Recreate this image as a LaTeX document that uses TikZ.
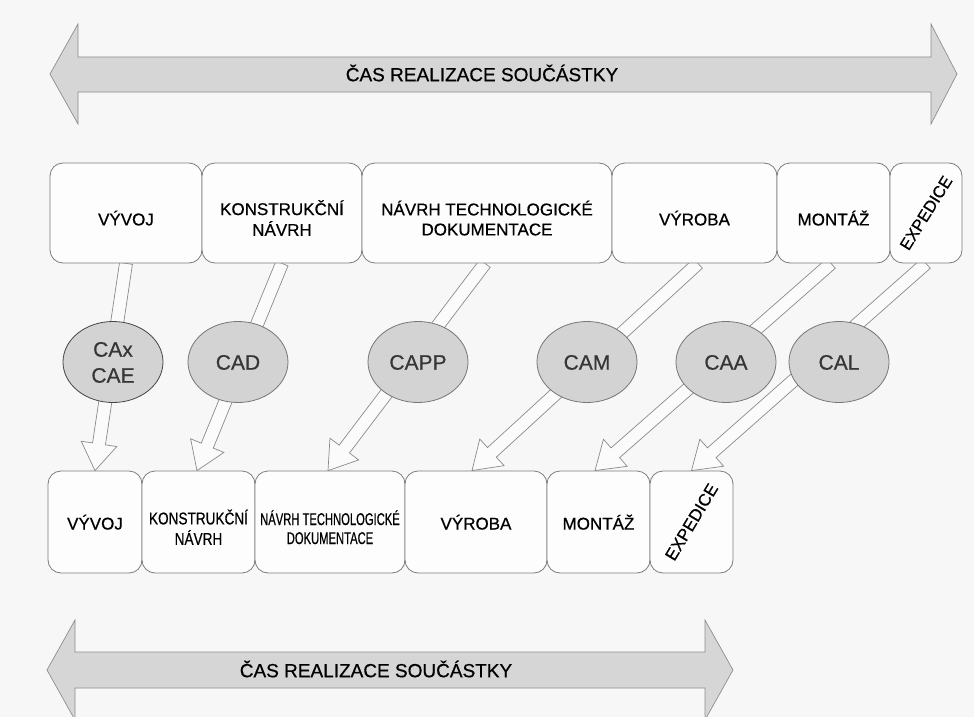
\documentclass[tikz,border=0pt]{standalone}
\usepackage{fontspec}
\setmainfont{Liberation Sans}
\newfontfamily\heavy{Liberation Sans}[FakeBold=0.6]
\usepackage{graphicx}
\usetikzlibrary{calc,backgrounds,shapes.geometric}
\definecolor{pagebg}{HTML}{F7F7F7}
\definecolor{boxline}{HTML}{7C7C7C}
\definecolor{boxfill}{HTML}{FDFDFD}
\definecolor{ellfill}{HTML}{D3D3D3}
\definecolor{ellline}{HTML}{767676}
\definecolor{ellline2}{HTML}{454545}
\definecolor{elltext}{HTML}{363636}
\definecolor{bigfill}{HTML}{D6D6D6}
\definecolor{bigline}{HTML}{8E8E8E}
\definecolor{arrline}{HTML}{8A8A8A}
\definecolor{arrfill}{HTML}{FBFBFB}
\newcommand{\tfont}{\heavy\fontsize{17}{20}\selectfont}
\newcommand{\bfontx}{\heavy\fontsize{17}{19}\selectfont}
\newcommand{\efont}{\heavy\fontsize{21}{26}\selectfont}
\newcommand{\titlefont}{\heavy\fontsize{19}{22}\selectfont}
\newcommand{\dn}[2]{\raisebox{-#1}[\height][\depth]{\begin{tabular}{@{}c@{}}#2\end{tabular}}}
\newcommand{\sq}[2]{\scalebox{#1}[1]{#2}}
\newcommand{\blockarrow}[2]{%
  \pgfpointdiff{\pgfpointanchor{#1}{center}}{\pgfpointanchor{#2}{center}}%
  \pgfgetlastxy{\badx}{\bady}%
  \pgfmathsetmacro{\balen}{veclen(\badx,\bady)}%
  \pgfmathsetmacro{\baang}{atan2(\bady,\badx)}%
  \filldraw[blockarr, shift={(#1)}, rotate=\baang]
    (0pt,-6.5pt) -- ({\balen pt-27pt},-6.5pt) -- ({\balen pt-27pt},-18pt)
    -- ({\balen pt},0pt) -- ({\balen pt-27pt},18pt) -- ({\balen pt-27pt},6.5pt)
    -- (0pt,6.5pt) -- cycle;
}
\begin{document}
\begin{tikzpicture}[x=1pt,y=-1pt,
  tbox/.style={draw=boxline, fill=boxfill, line width=0.8pt, rounded corners=13pt,
    inner sep=0pt, font=\tfont},
  bbox/.style={tbox, font=\bfontx},
  ell/.style={ellipse, draw=ellline, fill=ellfill, line width=0.8pt,
    minimum width=100pt, minimum height=81pt, inner sep=0pt, font=\efont, text=elltext},
  blockarr/.style={draw=arrline, fill=arrfill, line width=0.7pt, line join=miter},
  bigarr/.style={draw=bigline, fill=bigfill, line width=0.7pt, line join=miter},
  title/.style={font=\titlefont, inner sep=0pt}
]
\useasboundingbox (0,0) rectangle (974,717);

% top process boxes
\node[tbox, minimum width=152pt, minimum height=100pt] (t1) at (126,213) {\dn{8pt}{VÝVOJ}};
\node[tbox, minimum width=160pt, minimum height=100pt] (t2) at (282,213) {\dn{8pt}{KONSTRUKČNÍ\\NÁVRH}};
\node[tbox, minimum width=250pt, minimum height=100pt] (t3) at (487,213) {\dn{8pt}{NÁVRH TECHNOLOGICKÉ\\DOKUMENTACE}};
\node[tbox, minimum width=165pt, minimum height=100pt] (t4) at (694.5,213) {\dn{8pt}{VÝROBA}};
\node[tbox, minimum width=113pt, minimum height=100pt] (t5) at (833.5,213) {\dn{8pt}{MONTÁŽ}};
\node[tbox, minimum width=72pt, minimum height=100pt] (t6) at (926,213) {\rotatebox{58}{\fontsize{16.5}{19}\selectfont EXPEDICE}};

% bottom process boxes
\node[bbox, minimum width=94pt, minimum height=102pt] (b1) at (95,522) {\dn{3pt}{VÝVOJ}};
\node[bbox, minimum width=113pt, minimum height=102pt] (b2) at (198.5,522) {\dn{8pt}{\sq{0.8}{KONSTRUKČNÍ}\\\sq{0.8}{NÁVRH}}};
\node[bbox, minimum width=150pt, minimum height=102pt] (b3) at (330,522) {\dn{8pt}{\sq{0.66}{NÁVRH TECHNOLOGICKÉ}\\\sq{0.66}{DOKUMENTACE}}};
\node[bbox, minimum width=142pt, minimum height=102pt] (b4) at (476,522) {\dn{3pt}{VÝROBA}};
\node[bbox, minimum width=103pt, minimum height=102pt] (b5) at (598.5,522) {\dn{3pt}{MONTÁŽ}};
\node[bbox, minimum width=83pt, minimum height=102pt] (b6) at (691.5,522) {\rotatebox{59}{EXPEDICE}};

% CAx tools
\node[ell, draw=ellline2] (e1) at (113,362) {\dn{2.5pt}{CAx\\CAE}};
\node[ell] (e2) at (238,362) {\dn{2.5pt}{CAD}};
\node[ell] (e3) at (418,362) {\dn{2.5pt}{CAPP}};
\node[ell] (e4) at (587,362) {\dn{2.5pt}{CAM}};
\node[ell] (e5) at (726,362) {\dn{2.5pt}{CAA}};
\node[ell] (e6) at (839,362) {\dn{2.5pt}{CAL}};

% arrow ends
\coordinate (s1) at (t1.south);
\coordinate (s2) at (t2.south);
\coordinate (s3) at ($(t3.south)+(-2,0)$);
\coordinate (s4) at ($(t4.south)+(3.5,0)$);
\coordinate (s5) at ($(t5.south)+(-2.5,0)$);
\coordinate (s6) at (t6.south);
\coordinate (f1) at (b1.north);
\coordinate (f2) at ($(b2.north)+(-1.5,0)$);
\coordinate (f3) at ($(b3.north)+(-2,0)$);
\coordinate (f4) at ($(b4.north)+(-4,0)$);
\coordinate (f5) at ($(b5.north)+(-3.5,0)$);
\coordinate (f6) at (b6.north);

% time-line titles
\node[title] (ttop) at (482,73) {ČAS REALIZACE SOUČÁSTKY};
\node[title] (tbot) at (376,669) {ČAS REALIZACE SOUČÁSTKY};

\begin{pgfonlayer}{background}
  \fill[pagebg] (0,0) rectangle (974,717);
  % top double arrow
  \filldraw[bigarr] (50,74) -- (78,24) -- (78,57) -- (931,57) -- (931,24) -- (957,74)
    -- (931,124) -- (931,92) -- (78,92) -- (78,124) -- cycle;
  % bottom double arrow
  \filldraw[bigarr] (47,670) -- (75,620) -- (75,652) -- (705,652) -- (705,620) -- (733,670)
    -- (705,720) -- (705,688) -- (75,688) -- (75,720) -- cycle;
  \blockarrow{s1}{f1}
  \blockarrow{s2}{f2}
  \blockarrow{s3}{f3}
  \blockarrow{s4}{f4}
  \blockarrow{s5}{f5}
  \blockarrow{s6}{f6}
\end{pgfonlayer}
\end{tikzpicture}
\end{document}
